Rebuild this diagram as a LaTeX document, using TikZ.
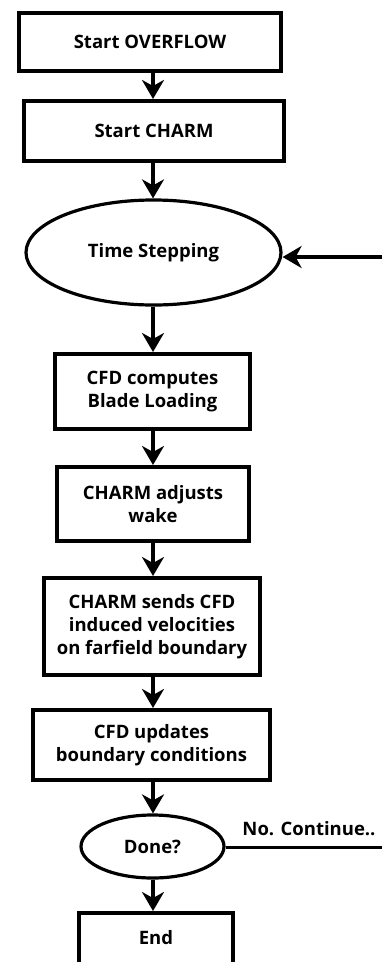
\documentclass[tikz,border=0pt]{standalone}
\usepackage{fontspec}
\setmainfont{Open Sans}
\usetikzlibrary{shapes.geometric,arrows.meta}
\begin{document}
\begin{tikzpicture}[x=1pt,y=-1pt,
  every node/.style={font=\fontsize{18.5}{23}\selectfont\bfseries, align=center},
  box/.style={draw, line width=4pt, rectangle, inner sep=0pt},
  oval/.style={draw, line width=3.2pt, ellipse, inner sep=0pt},
  arr/.style={line width=3.5pt, -{Stealth[length=19pt,width=22pt,inset=6pt]}},
  lin/.style={line width=3pt}]
\useasboundingbox (0,0) rectangle (382,962);
\coordinate (ax) at (153,0);
\node[box, minimum width=262pt, minimum height=58pt] (ov) at (150,42) {Start OVERFLOW};
\node[box, minimum width=260pt, minimum height=60pt] (ch) at (154,131) {Start CHARM};
\node[oval, minimum width=255pt, minimum height=105pt] (ts) at (153.5,252.5) {Time Stepping};
\node[box, minimum width=195pt, minimum height=75pt] (cfd) at (152.5,391.5) {CFD computes\\Blade Loading};
\node[box, minimum width=192pt, minimum height=74pt] (adj) at (153,504) {CHARM adjusts\\wake};
\node[box, minimum width=216pt, minimum height=97pt] (snd) at (152,626.5) {CHARM sends CFD\\induced velocities\\on farfield boundary};
\node[box, minimum width=237pt, minimum height=70pt] (upd) at (151.5,745) {CFD updates\\boundary conditions};
\node[oval, minimum width=143pt, minimum height=63pt] (done) at (152.5,846.5) {Done?};
\node[box, minimum width=154pt, anchor=north, inner ysep=10pt, text height=21pt, text depth=40pt] (end) at (156,911) {End};
\node (lbl) at (309,829) {No. Continue..};
\coordinate (r1) at (383,257);
\coordinate (r2) at (383,847);
\draw[arr] (ov.south -| ax) -- (ch.north -| ax);
\draw[arr] (ch.south -| ax) -- (ts.north -| ax);
\draw[arr] (ts.south -| ax) -- (cfd.north -| ax);
\draw[arr] (cfd.south -| ax) -- (adj.north -| ax);
\draw[arr] (adj.south -| ax) -- (snd.north -| ax);
\draw[arr] (snd.south -| ax) -- (upd.north -| ax);
\draw[arr] (upd.south -| ax) -- (done.north -| ax);
\draw[arr] (done.south -| ax) -- (end.north -| ax);
\draw[arr] (r1) -- (r1 -| ts.east);
\draw[lin] (done.east |- r2) -- (r2);
\end{tikzpicture}
\end{document}
